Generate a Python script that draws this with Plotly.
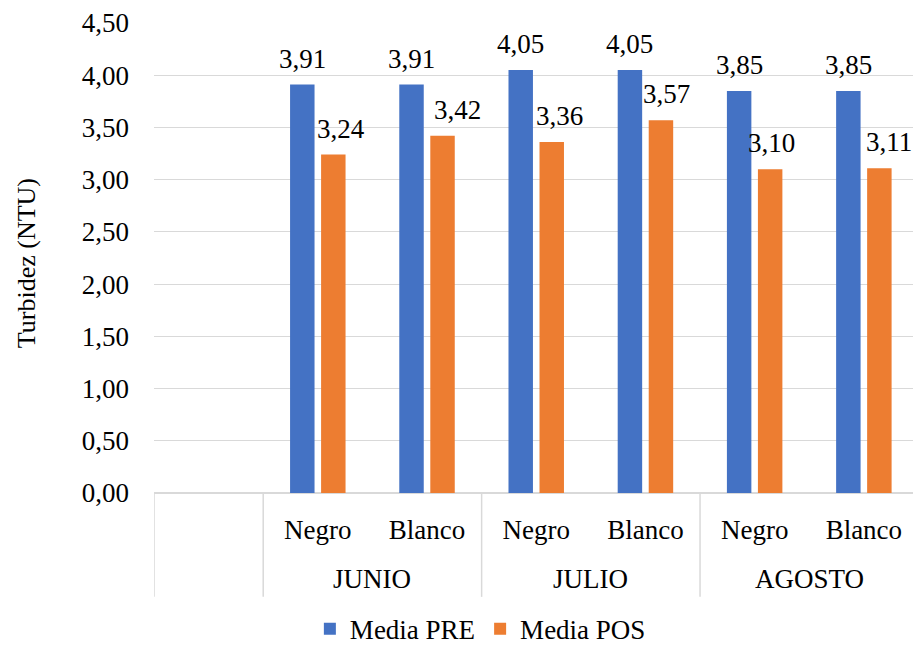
import plotly.graph_objects as go

# Turbidity means before (PRE) and after (POS) treatment, by month and bottle colour
months = ["JUNIO", "JULIO", "AGOSTO"]
colours = ["Negro", "Blanco"]
media_pre = [3.91, 3.91, 4.05, 4.05, 3.85, 3.85]
media_pos = [3.24, 3.42, 3.36, 3.57, 3.10, 3.11]
y_ticks = [0.0, 0.5, 1.0, 1.5, 2.0, 2.5, 3.0, 3.5, 4.0, 4.5]

BLUE = "#4472C4"
ORANGE = "#ED7D31"
GRID = "#D9D9D9"
INK = "#000000"
FONT = "Liberation Serif"
FS = 27


def fmt(v):
    return f"{v:.2f}".replace(".", ",")


# Slot 0 is an empty leading category; the six month/colour pairs follow
sub_labels = [c for _ in months for c in colours]
xpos = [i + 1 for i in range(len(sub_labels))]

BAR_W = 0.224
PRE_OFF = -0.254
POS_OFF = 0.030

fig = go.Figure()
fig.add_trace(go.Bar(
    name="Media PRE", x=xpos, y=media_pre, marker_color=BLUE,
    width=BAR_W, offset=PRE_OFF, marker_line_width=0,
))
fig.add_trace(go.Bar(
    name="Media POS", x=xpos, y=media_pos, marker_color=ORANGE,
    width=BAR_W, offset=POS_OFF, marker_line_width=0,
))

# value labels above the bars
pos_nudge = [8, 15, 8, 6, 1, 10]
annotations = []
for i, x in enumerate(xpos):
    annotations.append(dict(
        x=x + PRE_OFF + BAR_W / 2, y=media_pre[i], text=fmt(media_pre[i]),
        xref="x", yref="y", showarrow=False, yanchor="middle", yshift=26,
        font=dict(family=FONT, size=FS, color=INK),
    ))
    annotations.append(dict(
        x=x + POS_OFF + BAR_W / 2, y=media_pos[i], text=fmt(media_pos[i]),
        xref="x", yref="y", showarrow=False, yanchor="middle", yshift=26,
        xshift=pos_nudge[i],
        font=dict(family=FONT, size=FS, color=INK),
    ))

# month labels (second level of the category axis)
for m, month in enumerate(months):
    center = (xpos[2 * m] + xpos[2 * m + 1]) / 2
    annotations.append(dict(
        x=center, y=-0.183, xref="x", yref="paper", text=month,
        showarrow=False, yanchor="middle",
        font=dict(family=FONT, size=FS, color=INK),
    ))

# y axis title
annotations.append(dict(
    x=-0.168, y=0.49, xref="paper", yref="paper", text="Turbidez (NTU)",
    textangle=-90, showarrow=False, xanchor="center", yanchor="middle",
    font=dict(family=FONT, size=26, color=INK),
))

# divider lines of the multi-level category axis
shapes = []
for xb in [-0.5, 0.5, 2.5, 4.5]:
    shapes.append(dict(
        type="line", xref="x", yref="paper", x0=xb, x1=xb, y0=0, y1=-0.221,
        line=dict(color=GRID, width=1.5),
    ))

fig.update_layout(
    width=913, height=646,
    margin=dict(l=154, r=0, t=23, b=153, autoexpand=False),
    paper_bgcolor="white", plot_bgcolor="white",
    showlegend=True,
    legend=dict(
        orientation="h", x=0.43, xanchor="center", y=-0.342, yanchor="bottom",
        font=dict(family=FONT, size=FS, color=INK),
        itemwidth=30, traceorder="normal",
    ),
    annotations=annotations,
    shapes=shapes,
)
fig.update_xaxes(
    range=[-0.5, 6.45], tickmode="array", tickvals=xpos, ticktext=sub_labels,
    showgrid=False, zeroline=False, showline=False, ticks="",
    ticklabelstandoff=18,
    tickfont=dict(family=FONT, size=FS, color=INK),
)
fig.update_yaxes(
    range=[0, 4.5], tickmode="array", tickvals=y_ticks,
    ticktext=[fmt(v) for v in y_ticks],
    showgrid=True, gridcolor=GRID, gridwidth=1.3,
    zeroline=True, zerolinecolor=GRID, zerolinewidth=1.5,
    showline=False, ticks="", ticklabelstandoff=24,
    tickfont=dict(family=FONT, size=FS, color=INK),
)

fig.write_html("out.html")
